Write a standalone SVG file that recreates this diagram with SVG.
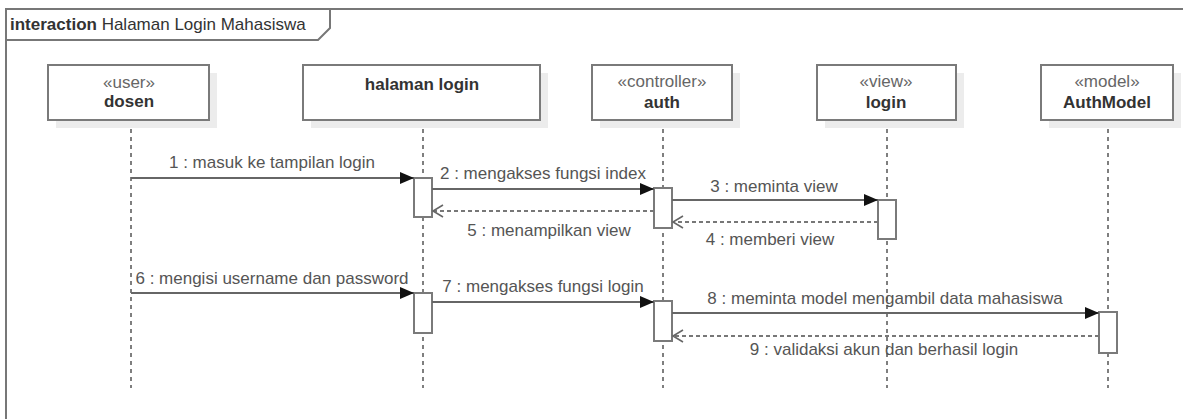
<svg xmlns="http://www.w3.org/2000/svg" width="1183" height="419" viewBox="0 0 1183 419">
<style>
text{font-family:"Liberation Sans",Arial,sans-serif;font-size:17px}
.frame{fill:none;stroke:#777;stroke-width:2}
.shadow{fill:#ececec;stroke:none}
.head{fill:#fff;stroke:#7a7a7a;stroke-width:2}
.st{fill:#666;text-anchor:middle}
.nm{fill:#333;font-weight:bold;text-anchor:middle}
.life{stroke:#555;stroke-width:1.5;stroke-dasharray:4,4;fill:none}
.act{fill:#fff;stroke:#7a7a7a;stroke-width:2}
.msg{stroke:#666;stroke-width:2;fill:none}
.ret{stroke:#777;stroke-width:1.8;stroke-dasharray:4,3;fill:none}
.lbl{fill:#555;text-anchor:middle}
</style>
<defs>
<marker id="fill" markerWidth="14" markerHeight="12" refX="14" refY="6" orient="auto" markerUnits="userSpaceOnUse">
<path d="M0,0 L14,6 L0,12 Z" fill="#111"/>
</marker>
<marker id="open" markerWidth="12" markerHeight="12" refX="11" refY="6" orient="auto" markerUnits="userSpaceOnUse" overflow="visible">
<path d="M1,0 L11,6 L1,12" fill="none" stroke="#666" stroke-width="1.6"/>
</marker>
</defs>
<rect width="1183" height="419" fill="#fff"/>
<g id="frame">
<path class="frame" d="M6,430 L6,9 L1190,9"/>
<path class="frame" d="M6,9 L330,9 L330,28 L318,40 L6,40"/>
<text x="10" y="30" fill="#333"><tspan font-weight="bold">interaction</tspan> Halaman Login Mahasiswa</text>
</g>
<g id="lifelines">
<line class="life" x1="131" y1="121" x2="131" y2="388"/>
<line class="life" x1="423" y1="121" x2="423" y2="388"/>
<line class="life" x1="663" y1="121" x2="663" y2="388"/>
<line class="life" x1="887" y1="121" x2="887" y2="388"/>
<line class="life" x1="1108" y1="121" x2="1108" y2="388"/>
</g>
<g id="dosen">
<rect class="shadow" x="56" y="73" width="161" height="55"/>
<rect class="head" x="48" y="65" width="161" height="55"/>
<text class="st" x="129" y="88">«user»</text>
<text class="nm" x="129" y="107">dosen</text>
</g>
<g id="halaman-login">
<rect class="shadow" x="311" y="73" width="237" height="55"/>
<rect class="head" x="303" y="65" width="237" height="55"/>
<text class="nm" x="422" y="90">halaman login</text>
</g>
<g id="auth">
<rect class="shadow" x="600" y="73" width="140" height="55"/>
<rect class="head" x="592" y="65" width="140" height="55"/>
<text class="st" x="662" y="87">«controller»</text>
<text class="nm" x="662" y="108">auth</text>
</g>
<g id="login">
<rect class="shadow" x="825" y="73" width="139" height="55"/>
<rect class="head" x="817" y="65" width="139" height="55"/>
<text class="st" x="886" y="87">«view»</text>
<text class="nm" x="886" y="108">login</text>
</g>
<g id="AuthModel">
<rect class="shadow" x="1049" y="73" width="132" height="55"/>
<rect class="head" x="1041" y="65" width="132" height="55"/>
<text class="st" x="1107" y="87">«model»</text>
<text class="nm" x="1107" y="108">AuthModel</text>
</g>
<g id="activations">
<rect class="act" x="414" y="178" width="18" height="39"/>
<rect class="act" x="654" y="188" width="18" height="40"/>
<rect class="act" x="878" y="200" width="18" height="39"/>
<rect class="act" x="414" y="293" width="18" height="40"/>
<rect class="act" x="654" y="301" width="18" height="40"/>
<rect class="act" x="1099" y="312" width="18" height="41"/>
</g>
<g id="connectors">
<line class="msg" x1="131" y1="178" x2="414" y2="178" marker-end="url(#fill)"/>
<text class="lbl" x="272" y="168">1 : masuk ke tampilan login</text>
<line class="msg" x1="432" y1="189" x2="654" y2="189" marker-end="url(#fill)"/>
<text class="lbl" x="543" y="179">2 : mengakses fungsi index</text>
<line class="msg" x1="672" y1="200" x2="878" y2="200" marker-end="url(#fill)"/>
<text class="lbl" x="774" y="192">3 : meminta view</text>
<line class="ret" x1="878" y1="222" x2="673" y2="222" marker-end="url(#open)"/>
<text class="lbl" x="770" y="245">4 : memberi view</text>
<line class="ret" x1="654" y1="211" x2="433" y2="211" marker-end="url(#open)"/>
<text class="lbl" x="549" y="236">5 : menampilkan view</text>
<line class="msg" x1="131" y1="293" x2="414" y2="293" marker-end="url(#fill)"/>
<text class="lbl" x="272" y="284">6 : mengisi username dan password</text>
<line class="msg" x1="432" y1="302" x2="654" y2="302" marker-end="url(#fill)"/>
<text class="lbl" x="543" y="292">7 : mengakses fungsi login</text>
<line class="msg" x1="672" y1="313" x2="1099" y2="313" marker-end="url(#fill)"/>
<text class="lbl" x="885" y="304">8 : meminta model mengambil data mahasiswa</text>
<line class="ret" x1="1099" y1="336" x2="673" y2="336" marker-end="url(#open)"/>
<text class="lbl" x="884" y="355">9 : validaksi akun dan berhasil login</text>
</g>
</svg>
